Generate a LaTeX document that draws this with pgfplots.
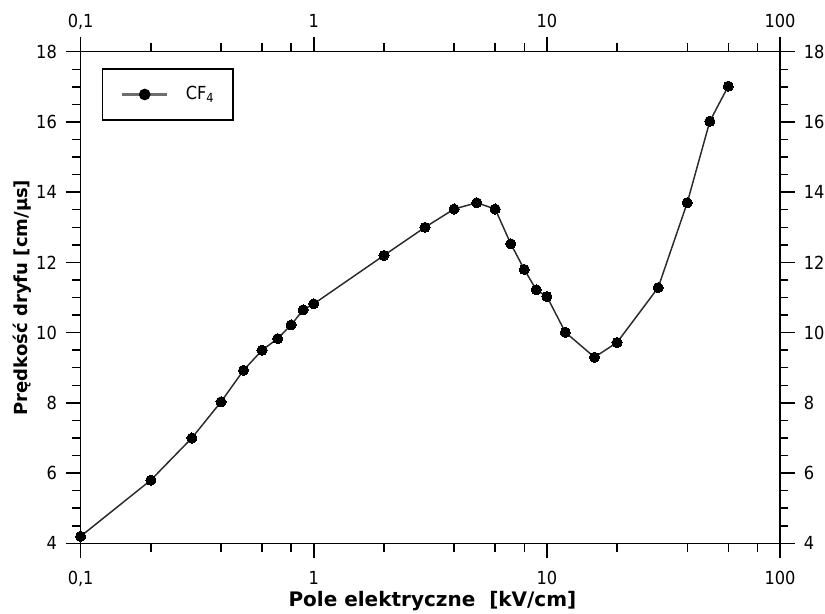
\documentclass[border=0pt]{standalone}
\usepackage{fontspec}
\setmainfont{DejaVu Sans Condensed}
\newfontfamily\labelfont{DejaVu Sans}
\usepackage{pgfplots}
\pgfplotsset{compat=1.18}
\definecolor{plotline}{HTML}{2A2A2A}
\definecolor{legline}{HTML}{6E6E6E}
\pgfplotstableread{
x y
0.1 4.2
0.2 5.8
0.3 7.0
0.4 8.03
0.5 8.93
0.6 9.5
0.7 9.83
0.8 10.22
0.9 10.65
1 10.82
2 12.2
3 13.0
4 13.52
5 13.7
6 13.52
7 12.53
8 11.8
9 11.22
10 11.03
12 10.01
16 9.3
20 9.72
30 11.28
40 13.7
50 16.02
60 17.02
}\cffour
\begin{document}
\fontsize{13.5pt}{16pt}\selectfont
\begin{tikzpicture}
\begin{axis}[name=ax,
  xmode=log, xmin=0.1, xmax=100, ymin=4, ymax=18,
  width=524.5pt, height=368.7pt, scale only axis,
  xtick={0.1,1,10,100}, xticklabels={0{,}1,1,10,100},
  minor xtick={0.2,0.4,0.6,0.8,2,4,6,8,20,40,60,80},
  ytick={4,6,...,18}, minor ytick={4.5,5,...,17.5},
  tick align=outside,
  major tick length=11.25pt, minor tick length=6.4pt,
  /pgf/number format/assume math mode=true,
  tick label style={font=\fontsize{13.5}{16}\selectfont, inner sep=6.5pt, text depth=0pt},
  xticklabel style={yshift=-3pt},
  axis line style={line width=1.1pt},
  tick style={line width=1.1pt, black},
  tick pos=both, xticklabel pos=lower, yticklabel pos=left,
  every axis x label/.style={at={(axis description cs:0.503,-0.1275)}, anchor=base},
  every axis y label/.style={at={(axis description cs:-0.0764,0.5)}, rotate=90, anchor=base},
  xlabel={\fontsize{15}{18}\labelfont\bfseries Pole elektryczne\ \ [kV/cm]},
  ylabel={\fontsize{13.5}{16}\labelfont\bfseries Prędkość dryfu [cm/µs]},
  legend style={at={(0.03,0.966)}, anchor=north west, draw=black, line width=1pt,
    inner xsep=14pt, inner ysep=13pt, nodes={inner sep=0pt}, column sep=13pt,
    font=\fontsize{13.5}{16}\selectfont},
  legend cell align=left,
]
\addplot[color=plotline, line width=1.1pt, mark=*, mark size=3.8pt,
  mark options={fill=black, draw=black, line width=0pt},
  legend image code/.code={
    \draw[legline, line width=1.6pt] (0pt,0pt) -- (34pt,0pt);
    \fill[black] (17pt,0pt) circle (3.8pt);
  }] table[x=x, y=y] {\cffour};
\addlegendentry{CF\textsubscript{4}}
\end{axis}
\begin{axis}[
  xmode=log, xmin=0.1, xmax=100, ymin=4, ymax=18,
  width=524.5pt, height=368.7pt, scale only axis,
  xtick={0.1,1,10,100}, xticklabels={0{,}1,1,10,100},
  ytick={4,6,...,18},
  tick align=outside,
  major tick length=11.25pt, minor tick length=6.4pt,
  /pgf/number format/assume math mode=true,
  tick label style={font=\fontsize{13.5}{16}\selectfont, inner sep=6.5pt, text depth=0pt},
  xtick pos=right, ytick pos=right, xticklabel pos=right, yticklabel pos=right,
  axis line style={draw=none}, tick style={draw=none},
]
\addplot[draw=none] coordinates {(1,10)};
\end{axis}
\pgfresetboundingbox
\path[use as bounding box] ([shift={(-60.5pt,-53pt)}]ax.south west) rectangle ([shift={(33.75pt,38.8pt)}]ax.north east);
\end{tikzpicture}
\end{document}
